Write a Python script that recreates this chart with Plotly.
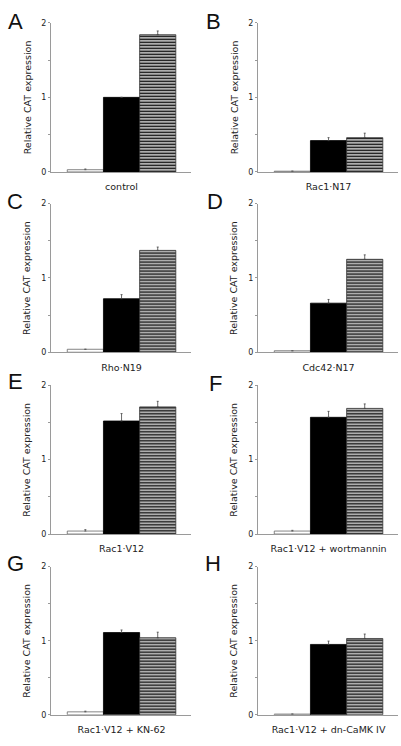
import plotly.graph_objects as go

W, H = 401, 746

letters = ["A", "B", "C", "D", "E", "F", "G", "H"]
categories = ["control", "Rac1·N17", "Rho·N19", "Cdc42·N17",
              "Rac1·V12", "Rac1·V12 + wortmannin", "Rac1·V12 + KN-62",
              "Rac1·V12 + dn-CaMK IV"]
white_vals = [0.03, 0.01, 0.04, 0.02, 0.04, 0.04, 0.04, 0.01]
white_errs = [0.01, 0.0, 0.0, 0.0, 0.02, 0.01, 0.01, 0.0]
black_vals = [1.00, 0.42, 0.72, 0.66, 1.52, 1.57, 1.11, 0.95]
black_errs = [0.0, 0.04, 0.055, 0.05, 0.10, 0.08, 0.035, 0.045]
striped_vals = [1.84, 0.46, 1.37, 1.25, 1.71, 1.69, 1.04, 1.03]
striped_errs = [0.05, 0.06, 0.045, 0.06, 0.075, 0.06, 0.075, 0.06]
y_tickvals = [0, 0.5, 1, 1.5, 2]
y_ticktext = ["0", "", "1", "", "2"]
y_title = "Relative CAT expression"

FONT = "DejaVu Sans"
AXC = "#9a9a9a"
TXT = "#222222"

col_x = [(51, 191), (258, 398)]
row_y = [(19, 170), (202, 352.5), (386, 536.5), (569.5, 719.5)]
letter_pos = [(15, 18), (213, 18), (15, 200), (215, 200),
              (15, 382), (215, 384), (15, 566), (213, 566)]

fig = go.Figure()
annotations = []

for i in range(8):
    r, c = divmod(i, 2)
    n = i + 1
    xa = "x" if n == 1 else f"x{n}"
    ya = "y" if n == 1 else f"y{n}"
    cat = [categories[i]]
    fig.add_trace(go.Bar(
        x=cat, y=[white_vals[i]], xaxis=xa, yaxis=ya, offsetgroup="w",
        marker=dict(color="white", line=dict(color="#666", width=0.8)),
        error_y=dict(type="data", symmetric=False, array=[white_errs[i]],
                     arrayminus=[0], color="#555", thickness=0.8, width=1),
        showlegend=False))
    fig.add_trace(go.Bar(
        x=cat, y=[black_vals[i]], xaxis=xa, yaxis=ya, offsetgroup="b",
        marker=dict(color="black", line=dict(color="black", width=0.8)),
        error_y=dict(type="data", symmetric=False, array=[black_errs[i]],
                     arrayminus=[0], color="#444", thickness=0.8, width=1),
        showlegend=False))
    fig.add_trace(go.Bar(
        x=cat, y=[striped_vals[i]], xaxis=xa, yaxis=ya, offsetgroup="s",
        marker=dict(color="white", line=dict(color="#333", width=0.8),
                    pattern=dict(shape="-", size=3, solidity=0.55,
                                 fgcolor="black", bgcolor="white",
                                 fillmode="replace")),
        error_y=dict(type="data", symmetric=False, array=[striped_errs[i]],
                     arrayminus=[0], color="#444", thickness=0.8, width=1),
        showlegend=False))

    x0, x1 = col_x[c]
    t, b = row_y[r]
    xkey = "xaxis" if n == 1 else f"xaxis{n}"
    ykey = "yaxis" if n == 1 else f"yaxis{n}"
    fig.layout[xkey] = dict(
        domain=[x0 / W, x1 / W], anchor=ya, type="category",
        range=[-0.65, 0.64], showline=True, linecolor=AXC, linewidth=1,
        ticks="", showgrid=False, zeroline=False,
        tickfont=dict(family=FONT, size=9.5, color=TXT),
        ticklabelstandoff=6)
    fig.layout[ykey] = dict(
        domain=[1 - b / H, 1 - t / H], anchor=xa, range=[0, 2],
        showline=True, linecolor=AXC, linewidth=1,
        tickmode="array", tickvals=y_tickvals, ticktext=y_ticktext,
        ticks="outside", ticklen=2, tickcolor=AXC,
        showgrid=False, zeroline=False,
        tickfont=dict(family=FONT, size=8, color=TXT))
    annotations.append(dict(
        text=y_title, textangle=-90, xref="paper", yref="paper",
        x=(x0 - 24) / W, y=1 - ((t + b) / 2) / H,
        xanchor="center", yanchor="middle", showarrow=False,
        font=dict(family=FONT, size=9.5, color=TXT)))
    lx, ly = letter_pos[i]
    annotations.append(dict(
        text=letters[i], xref="paper", yref="paper",
        x=lx / W, y=1 - ly / H, xanchor="center", yanchor="middle",
        showarrow=False,
        font=dict(family="Liberation Sans", size=22, color="#111")))

fig.update_layout(
    width=W, height=H, margin=dict(l=0, r=0, t=0, b=0),
    paper_bgcolor="white", plot_bgcolor="white",
    barmode="group", bargap=0, bargroupgap=0,
    annotations=annotations)

fig.write_html(
    "out.html",
    config={"displayModeBar": False, "staticPlot": True},
    post_script="document.body.style.margin='0';document.body.style.padding='0';")
